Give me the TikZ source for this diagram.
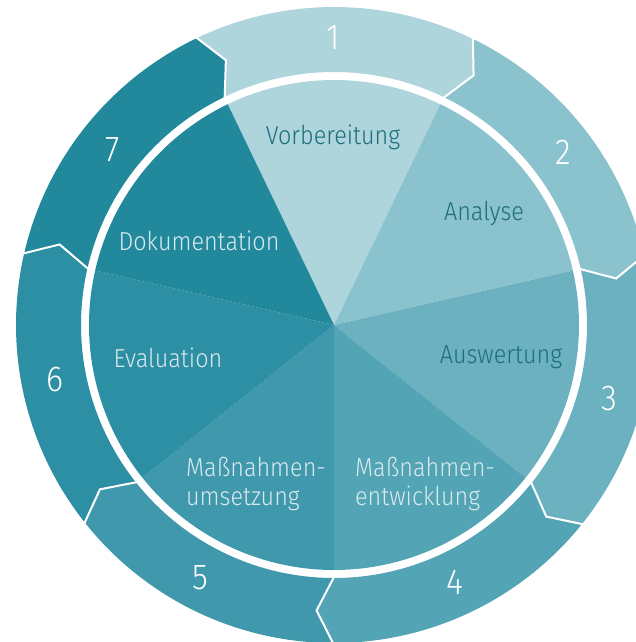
\documentclass[tikz,border=0pt]{standalone}
\usepackage{fontspec}
\setmainfont{Fira Sans}[UprightFont={* Light},FakeStretch=0.9]
\usepackage{tikz}

\definecolor{pone}{HTML}{AED4DC}
\definecolor{ptwo}{HTML}{8AC2CD}
\definecolor{pthree}{HTML}{6BB1C0}
\definecolor{pfour}{HTML}{53A4B5}
\definecolor{pfive}{HTML}{3F98AC}
\definecolor{psix}{HTML}{2C8FA3}
\definecolor{pseven}{HTML}{22899D}
\definecolor{txtdark}{HTML}{1D6E7E}
\definecolor{txtlight}{HTML}{D8E9ED}

\begin{document}
\begin{tikzpicture}[x=1pt,y=1pt,
  sepline/.style={draw=white,line width=2pt,line join=miter},
  phase/.style={font=\fontsize{26}{29}\selectfont,align=left,inner sep=0pt},
  darklab/.style={phase,text=txtdark},
  lightlab/.style={phase,text=txtlight},
  numlab/.style={font=\fontsize{36}{36}\selectfont,text=white,inner sep=0pt}]

\useasboundingbox (-334,-317) rectangle (302,325);

% inner pie
\fill[pone]   (0,0) -- (115.714:245) arc[start angle=115.714,end angle=64.286,radius=245] -- cycle;
\fill[ptwo]   (0,0) -- (64.286:245) arc[start angle=64.286,end angle=12.857,radius=245] -- cycle;
\fill[pthree] (0,0) -- (12.857:245) arc[start angle=12.857,end angle=-38.571,radius=245] -- cycle;
\fill[pfour]  (0,0) -- (-38.571:245) arc[start angle=-38.571,end angle=-90,radius=245] -- cycle;
\fill[pfive]  (0,0) -- (-90:245) arc[start angle=-90,end angle=-141.429,radius=245] -- cycle;
\fill[psix]   (0,0) -- (-141.429:245) arc[start angle=-141.429,end angle=-192.857,radius=245] -- cycle;
\fill[pseven] (0,0) -- (-192.857:245) arc[start angle=-192.857,end angle=-244.286,radius=245] -- cycle;

% outer ring
\fill[pone]   (115.714:318) arc[start angle=115.714,end angle=64.286,radius=318] -- (60.786:286) -- (64.286:253)
              arc[start angle=64.286,end angle=115.714,radius=253] -- (112.214:286) -- cycle;
\fill[ptwo]   (64.286:318) arc[start angle=64.286,end angle=12.857,radius=318] -- (9.357:286) -- (12.857:253)
              arc[start angle=12.857,end angle=64.286,radius=253] -- (60.786:286) -- cycle;
\fill[pthree] (12.857:318) arc[start angle=12.857,end angle=-38.571,radius=318] -- (-42.071:286) -- (-38.571:253)
              arc[start angle=-38.571,end angle=12.857,radius=253] -- (9.357:286) -- cycle;
\fill[pfour]  (-38.571:318) arc[start angle=-38.571,end angle=-90,radius=318] -- (-93.5:286) -- (-90:253)
              arc[start angle=-90,end angle=-38.571,radius=253] -- (-42.071:286) -- cycle;
\fill[pfive]  (-90:318) arc[start angle=-90,end angle=-141.429,radius=318] -- (-144.929:286) -- (-141.429:253)
              arc[start angle=-141.429,end angle=-90,radius=253] -- (-93.5:286) -- cycle;
\fill[psix]   (-141.429:318) arc[start angle=-141.429,end angle=-192.857,radius=318] -- (-196.357:286) -- (-192.857:253)
              arc[start angle=-192.857,end angle=-141.429,radius=253] -- (-144.929:286) -- cycle;
\fill[pseven] (-192.857:318) arc[start angle=-192.857,end angle=-244.286,radius=318] -- (-247.786:286) -- (-244.286:253)
              arc[start angle=-244.286,end angle=-192.857,radius=253] -- (-196.357:286) -- cycle;

% chevron borders
\draw[sepline] (115.714:320) -- (112.214:286) -- (115.714:252);
\draw[sepline] (64.286:320) -- (60.786:286) -- (64.286:252);
\draw[sepline] (12.857:320) -- (9.357:286) -- (12.857:252);
\draw[sepline] (-38.571:320) -- (-42.071:286) -- (-38.571:252);
\draw[sepline] (-90:320) -- (-93.5:286) -- (-90:252);
\draw[sepline] (-141.429:320) -- (-144.929:286) -- (-141.429:252);
\draw[sepline] (-192.857:320) -- (-196.357:286) -- (-192.857:252);

% numbers
\node[numlab] (n1) at (-1,287)   {1};
\node[numlab] (n2) at (229,173)  {2};
\node[numlab] (n3) at (275,-74)  {3};
\node[numlab] (n4) at (121,-257) {4};
\node[numlab] (n5) at (-134,-253) {5};
\node[numlab] (n6) at (-279,-55) {6};
\node[numlab] (n7) at (-221,175) {7};

% phase labels
\node[darklab]  (vorb) at (-1,188)   {Vorbereitung};
\node[darklab]  (anal) at (150,112)  {Analyse};
\node[darklab]  (ausw) at (167,-32)  {Auswertung};
\node[lightlab] (entw) at (91,-159)  {Maßnahmen-\\entwicklung};
\node[lightlab] (umse) at (-78,-159) {Maßnahmen-\\umsetzung};
\node[lightlab] (eval) at (-166,-33) {Evaluation};
\node[lightlab] (doku) at (-135,84)  {Dokumentation};

\end{tikzpicture}
\end{document}
